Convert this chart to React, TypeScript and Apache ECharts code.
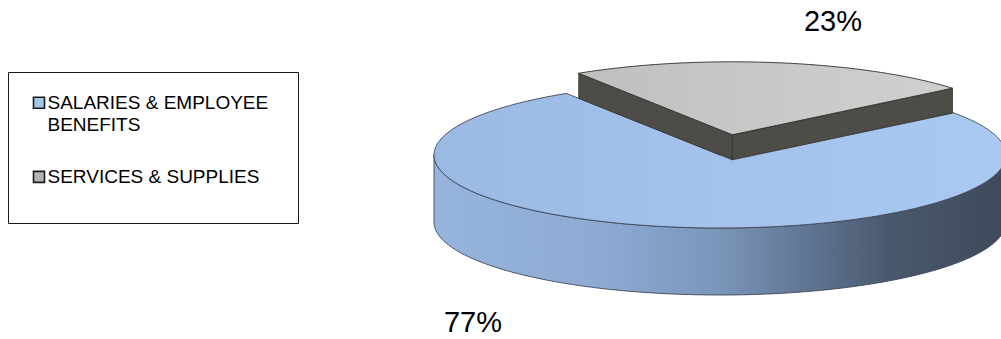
import React, { useEffect, useRef } from "react";
import * as echarts from "echarts";

// Budget split by expense category (percent of total)
const categories = ["SALARIES & EMPLOYEE BENEFITS", "SERVICES & SUPPLIES"];
const shares = [77, 23];

// Slice appearance
const topFills = [
  {
    type: "linear", x: 0, y: 0, x2: 1, y2: 0,
    colorStops: [
      { offset: 0, color: "#9ab9e3" },
      { offset: 0.5, color: "#a4c2eb" },
      { offset: 1, color: "#a9c9f1" },
    ],
  },
  {
    type: "linear", x: 0, y: 0, x2: 1, y2: 0,
    colorStops: [
      { offset: 0, color: "#bfbfbf" },
      { offset: 0.6, color: "#cacaca" },
      { offset: 1, color: "#cfcfcf" },
    ],
  },
];
const sideFills = ["#7f9bc2", "#4d4c47"];
const edgeColors = ["#3d4656", "#2e2e2b"];
const legendSwatches = ["#a3c6ea", "#b3b3b3"];

// 3D pie layout
const PIE = { cx: 720, cy: 155, rx: 286, ry: 73, startAngle: 320.3 };
const explode = [0, 0.28];
const thickness = [67, 25];
const labelAnchors = [
  { x: 473, y: 322 },
  { x: 833, y: 21 },
];

const FONT = '"Liberation Sans", Arial, Helvetica, sans-serif';
const RAD = Math.PI / 180;

const wallGradient = {
  type: "linear",
  global: true,
  x: PIE.cx - PIE.rx,
  y: 0,
  x2: PIE.cx + PIE.rx,
  y2: 0,
  colorStops: [
    { offset: 0, color: "#96b4dd" },
    { offset: 0.3, color: "#8eaad3" },
    { offset: 0.5, color: "#7b95ba" },
    { offset: 0.65, color: "#607693" },
    { offset: 0.8, color: "#4a586d" },
    { offset: 1, color: "#3e4a5b" },
  ],
};

function renderSlice(params: any, api: any) {
  const i = params.dataIndex;
  const total = shares.reduce((a, b) => a + b, 0);
  let before = 0;
  for (let k = 0; k < i; k++) before += shares[k];
  const value = api.value(0);
  const a0 = PIE.startAngle + (before / total) * 360;
  const a1 = a0 + (value / total) * 360;
  const mid = ((a0 + a1) / 2) * RAD;
  const e = explode[i];
  const ox = PIE.cx + e * PIE.rx * Math.cos(mid);
  const oy = PIE.cy + e * PIE.ry * Math.sin(mid);
  const d = thickness[i];

  const pt = (deg: number, dy = 0) => [
    ox + PIE.rx * Math.cos(deg * RAD),
    oy + PIE.ry * Math.sin(deg * RAD) + dy,
  ];
  const arc = (s: number, t: number, dy = 0) => {
    const n = Math.max(2, Math.ceil(Math.abs(t - s)));
    const pts: number[][] = [];
    for (let j = 0; j <= n; j++) pts.push(pt(s + ((t - s) * j) / n, dy));
    return pts;
  };

  const children: any[] = [];
  const faceStyle = { fill: sideFills[i], stroke: edgeColors[i], lineWidth: 0.8 };

  // radial cut faces turned toward the viewer
  if (Math.cos(a0 * RAD) < 0) {
    children.push({
      type: "polygon",
      shape: { points: [[ox, oy], pt(a0), pt(a0, d), [ox, oy + d]] },
      style: faceStyle,
    });
  }
  if (Math.cos(a1 * RAD) > 0) {
    children.push({
      type: "polygon",
      shape: { points: [[ox, oy], pt(a1), pt(a1, d), [ox, oy + d]] },
      style: faceStyle,
    });
  }

  // outer rim on the near half of the ellipse
  for (let k = Math.floor(a0 / 360) - 1; k <= Math.ceil(a1 / 360); k++) {
    const s = Math.max(a0, 360 * k);
    const t = Math.min(a1, 360 * k + 180);
    if (t > s) {
      children.push({
        type: "polygon",
        shape: { points: arc(s, t).concat(arc(t, s, d)) },
        style: { fill: i === 0 ? wallGradient : sideFills[i], stroke: edgeColors[i], lineWidth: 0.9 },
      });
    }
  }

  // top face
  children.push({
    type: "polygon",
    shape: { points: [[ox, oy]].concat(arc(a0, a1)) },
    style: { fill: topFills[i], stroke: edgeColors[i], lineWidth: 0.9 },
  });

  // percentage label
  children.push({
    type: "text",
    x: labelAnchors[i].x,
    y: labelAnchors[i].y,
    style: {
      text: `${value}%`,
      fontSize: 29,
      fontFamily: FONT,
      fill: "#000",
      align: "center",
      verticalAlign: "middle",
    },
  });

  return { type: "group", children };
}

function legendGraphics() {
  const els: any[] = [
    {
      type: "rect",
      shape: { x: 8.5, y: 72.5, width: 290, height: 151 },
      style: { fill: "#fff", stroke: "#1a1a1a", lineWidth: 1 },
    },
  ];
  const rows = [91.5, 165.7];
  categories.forEach((name, i) => {
    els.push({
      type: "rect",
      shape: { x: 33.5, y: rows[i] + 5.7, width: 11, height: 11 },
      style: { fill: legendSwatches[i], stroke: "#1c1c1c", lineWidth: 1.6 },
    });
    els.push({
      type: "text",
      x: 47.5,
      y: rows[i],
      style: {
        text: name,
        width: 240,
        overflow: "break",
        fontSize: 19,
        lineHeight: 22,
        fontFamily: FONT,
        fill: "#000",
        align: "left",
        verticalAlign: "top",
      },
    });
  });
  return els;
}

export default function App() {
  const ref = useRef<HTMLDivElement>(null);

  useEffect(() => {
    document.body.style.margin = "0";
    const chart = echarts.init(ref.current!, undefined, { renderer: "svg" });
    chart.setOption({
      animation: false,
      backgroundColor: "#ffffff",
      graphic: legendGraphics(),
      series: [
        {
          type: "custom",
          coordinateSystem: "none",
          silent: true,
          renderItem: renderSlice,
          data: shares,
        },
      ],
    });
    return () => chart.dispose();
  }, []);

  return <div ref={ref} style={{ width: 1001, height: 339 }} />;
}
